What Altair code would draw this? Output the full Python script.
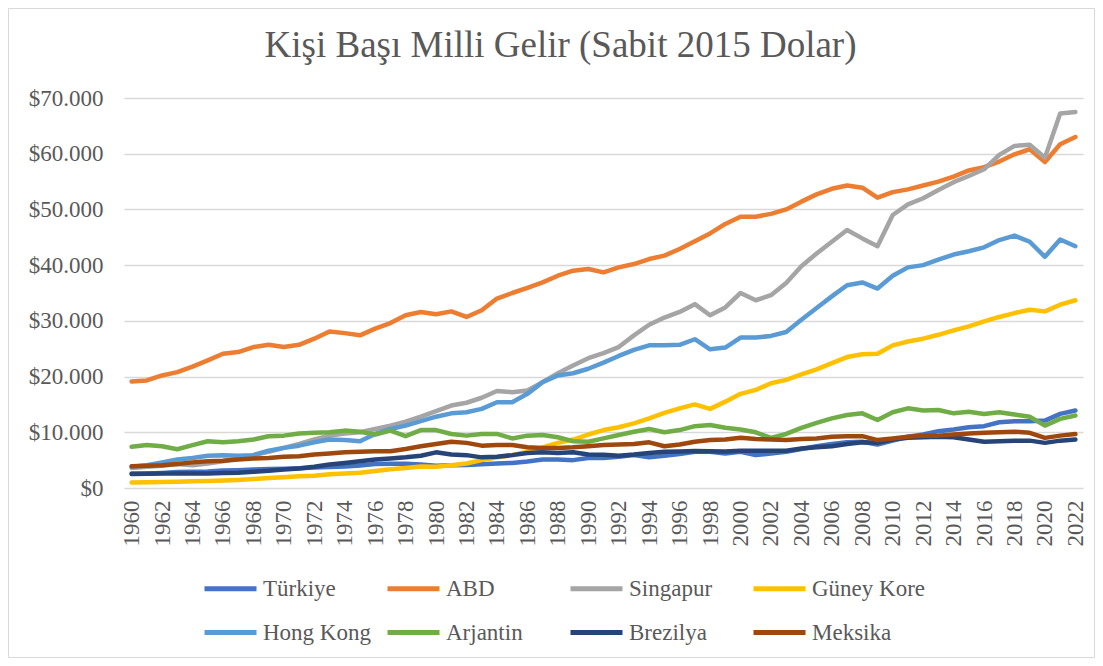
import altair as alt
import pandas as pd

years = list(range(1960, 2023))

names = ["Türkiye", "ABD", "Singapur", "Güney Kore", "Hong Kong", "Arjantin", "Brezilya", "Meksika"]
colors = ["#4472C4", "#ED7D31", "#A5A5A5", "#FFC000", "#5B9BD5", "#70AD47", "#264478", "#9E480E"]

turkiye = [2600, 2600, 2700, 2850, 2900, 2950, 3150, 3200, 3300, 3400,
           3450, 3550, 3700, 3750, 3850, 4050, 4300, 4350, 4350, 4200,
           4000, 4100, 4150, 4250, 4400, 4500, 4750, 5100, 5100, 5000,
           5400, 5400, 5600, 5900, 5500, 5800, 6100, 6500, 6500, 6200,
           6500, 5900, 6200, 6500, 7000, 7500, 7900, 8200, 8300, 7800,
           8500, 9200, 9600, 10200, 10500, 10900, 11100, 11800, 12000, 12000,
           12100, 13300, 13900]
abd = [19100, 19300, 20200, 20800, 21800, 22900, 24100, 24400, 25300, 25700,
       25300, 25700, 26800, 28100, 27800, 27400, 28600, 29600, 31000, 31600,
       31200, 31700, 30700, 31900, 34000, 35000, 35900, 36900, 38100, 39000,
       39300, 38700, 39600, 40200, 41100, 41700, 42900, 44300, 45700, 47400,
       48700, 48700, 49200, 50000, 51400, 52700, 53700, 54300, 53900, 52100,
       53100, 53600, 54300, 55000, 55900, 57000, 57600, 58600, 59900, 60800,
       58500, 61700, 63000]
singapur = [3600, 3800, 4000, 4300, 4100, 4400, 4800, 5300, 5900, 6500,
            7200, 7900, 8700, 9400, 9800, 10000, 10600, 11200, 11900, 12800,
            13800, 14800, 15300, 16200, 17400, 17200, 17500, 19000, 20600, 22000,
            23300, 24200, 25300, 27400, 29300, 30600, 31600, 33000, 31000, 32400,
            35000, 33700, 34600, 36800, 39800, 42100, 44200, 46300, 44800, 43400,
            49000, 50900, 52000, 53500, 54900, 56000, 57200, 59800, 61400, 61600,
            59300, 67200, 67500]
guney_kore = [1000, 1050, 1070, 1130, 1200, 1250, 1350, 1450, 1600, 1800,
              1950, 2100, 2200, 2450, 2600, 2750, 3050, 3350, 3600, 3850,
              3800, 4100, 4400, 5000, 5500, 5900, 6500, 7300, 8100, 8700,
              9600, 10400, 10900, 11600, 12500, 13500, 14300, 15000, 14200, 15500,
              16900, 17600, 18800, 19400, 20400, 21300, 22400, 23500, 24000, 24100,
              25600, 26300, 26800, 27500, 28300, 29000, 29900, 30700, 31400, 32000,
              31700, 32900, 33700]
hong_kong = [3800, 4100, 4600, 5100, 5400, 5800, 5900, 5800, 5900, 6700,
             7200, 7600, 8200, 8700, 8600, 8400, 9700, 10600, 11200, 12000,
             12800, 13400, 13600, 14200, 15400, 15400, 16900, 19000, 20200, 20600,
             21400, 22500, 23700, 24800, 25600, 25600, 25700, 26700, 24900, 25200,
             27000, 27000, 27300, 28000, 30200, 32300, 34400, 36400, 36900, 35800,
             38100, 39600, 40000, 41000, 41900, 42500, 43200, 44500, 45300, 44200,
             41500, 44600, 43400]
arjantin = [7400, 7700, 7500, 6950, 7700, 8400, 8200, 8400, 8700, 9300,
            9400, 9800, 9900, 10000, 10300, 10100, 9600, 10300, 9300, 10400,
            10400, 9700, 9400, 9700, 9700, 8900, 9400, 9500, 9100, 8400,
            8300, 8900, 9500, 10100, 10600, 10000, 10400, 11100, 11300, 10800,
            10500, 10000, 9000, 9700, 10800, 11700, 12500, 13100, 13400, 12200,
            13600, 14300, 13900, 14000, 13400, 13700, 13300, 13600, 13200, 12800,
            11200, 12400, 13000]
brezilya = [2500, 2550, 2600, 2600, 2600, 2600, 2700, 2750, 2900, 3100,
            3300, 3500, 3800, 4200, 4500, 4800, 5100, 5300, 5500, 5800,
            6400, 6000, 5900, 5500, 5600, 5900, 6300, 6400, 6300, 6400,
            6000, 5950, 5800, 6000, 6300, 6500, 6550, 6650, 6600, 6550,
            6700, 6700, 6700, 6700, 7100, 7300, 7500, 7900, 8200, 8100,
            8700, 9000, 9100, 9200, 9100, 8700, 8300, 8400, 8500, 8500,
            8100, 8500, 8700]
meksika = [3900, 4000, 4100, 4300, 4600, 4800, 4900, 5100, 5300, 5400,
           5600, 5700, 6000, 6200, 6400, 6500, 6600, 6600, 7000, 7500,
           7900, 8300, 8100, 7600, 7700, 7700, 7300, 7200, 7200, 7300,
           7500, 7700, 7800, 7900, 8200, 7500, 7800, 8300, 8600, 8700,
           9000, 8800, 8700, 8600, 8800, 8900, 9200, 9300, 9300, 8600,
           8900, 9200, 9400, 9400, 9600, 9800, 9900, 10000, 10100, 9900,
           9000, 9400, 9700]

series = [turkiye, abd, singapur, guney_kore, hong_kong, arjantin, brezilya, meksika]

y_ticks = list(range(0, 70001, 10000))
x_ticks = list(range(1960, 2023, 2))

rows = []
for name, vals in zip(names, series):
    for yr, v in zip(years, vals):
        rows.append({"country": name, "year": yr, "value": v})
df = pd.DataFrame(rows)

FONT = "Liberation Serif"
GRAY = "#595959"

lines = alt.Chart(df).mark_line(
    strokeWidth=4.5, strokeCap="round", strokeJoin="round"
).encode(
    x=alt.X(
        "year:Q",
        scale=alt.Scale(domain=[1959.5, 2022.5], nice=False, zero=False),
        axis=alt.Axis(
            values=x_ticks, format="d", labelAngle=270, grid=False, domain=False,
            ticks=False, tickSize=0, labelPadding=12, labelFont=FONT,
            labelFontSize=23, labelColor=GRAY, title=None, labelOverlap=False,
        ),
    ),
    y=alt.Y(
        "value:Q",
        scale=alt.Scale(domain=[0, 70000], nice=False),
        axis=alt.Axis(
            values=y_ticks,
            labelExpr="'$' + replace(format(datum.value, ',.0f'), ',', '.')",
            grid=True, gridColor="#D9D9D9", gridWidth=1.3, domain=False,
            ticks=False, tickSize=0, labelPadding=21, labelFont=FONT,
            labelFontSize=23, labelColor=GRAY, title=None,
        ),
    ),
    color=alt.Color(
        "country:N",
        scale=alt.Scale(domain=names, range=colors),
        legend=alt.Legend(
            title=None, orient="none", legendX=78, legendY=462, columns=4,
            direction="horizontal",
            symbolType="stroke", symbolSize=2704, symbolStrokeWidth=5,
            labelFont=FONT, labelFontSize=23, labelColor=GRAY, labelOffset=4,
            columnPadding=0, rowPadding=3, gridAlign="all", padding=0,
        ),
    ),
)

border = alt.Chart(pd.DataFrame({"a": [0]})).mark_rect(
    fillOpacity=0, stroke="#D9D9D9", strokeWidth=1
).encode(
    x=alt.value(-115.5), x2=alt.value(970.5), y=alt.value(-89.5), y2=alt.value(559.5)
)

chart = alt.layer(border, lines).properties(
    width=959,
    height=390,
    padding={"left": 116, "top": 90, "right": 12, "bottom": 170},
    autosize=alt.AutoSizeParams(type="none"),
    title=alt.TitleParams(
        text="Kişi Başı Milli Gelir (Sabit 2015 Dolar)",
        font=FONT, fontSize=37, color=GRAY, fontWeight="normal",
        anchor="middle", frame="group", dx=-43, offset=-86, baseline="alphabetic",
    ),
    background="white",
).configure_view(strokeOpacity=0)

chart.save("out.html", embed_options={"renderer": "svg", "actions": False})
